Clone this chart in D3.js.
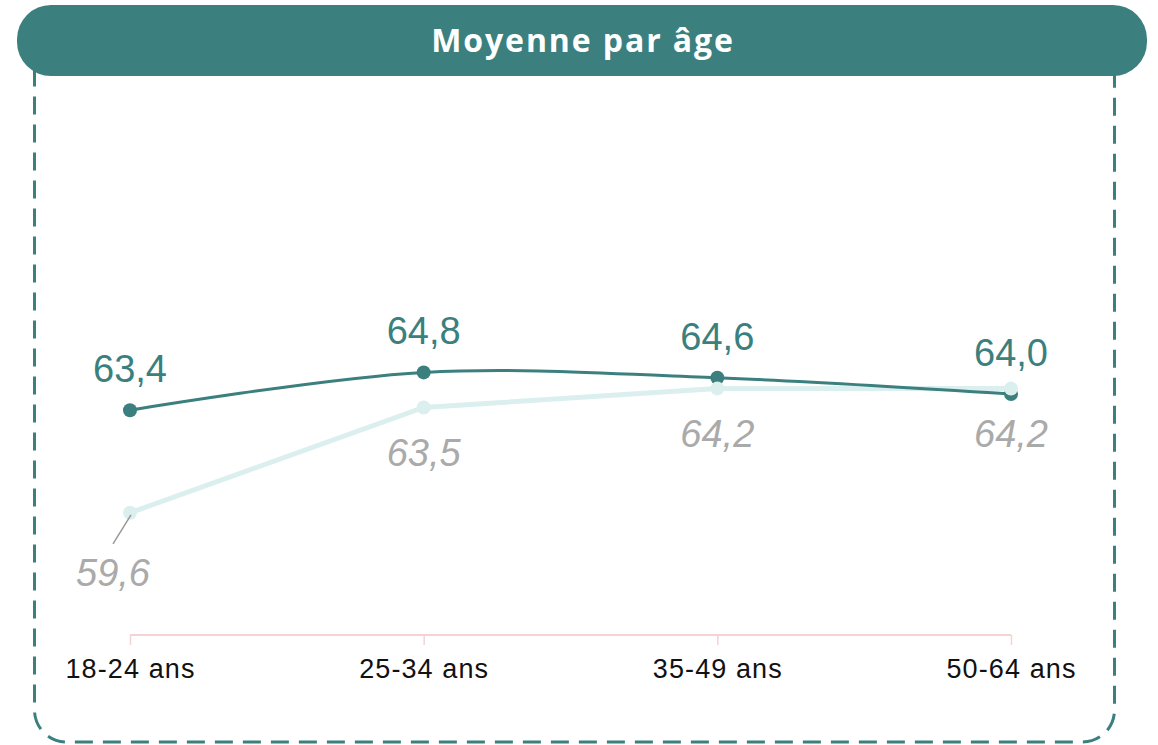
<!DOCTYPE html>
<html lang="fr">
<head>
  <meta charset="UTF-8">
  <title>Moyenne par âge</title>
  <style>
    body { margin: 0; background: #fff; }
    svg { display: block; }
  </style>
</head>
<body>
  <div id="chart"></div>
  <script src="https://d3js.org/d3.v7.min.js"></script>
  <script>
    var categories = ['18-24 ans', '25-34 ans', '35-49 ans', '50-64 ans'];
    var seriesDark = [63.4, 64.8, 64.6, 64.0];   // série principale
    var seriesLight = [59.6, 63.5, 64.2, 64.2];  // série de comparaison
    var yDomain = [55, 75];

    var width = 1158, height = 745;
    var teal = '#3b7f7f', pale = '#dcefef', grey = '#aaaaaa';
    var fmt = function(v) { return d3.format('.1f')(v).replace('.', ','); };

    var svg = d3.select('#chart').append('svg')
      .attr('width', width)
      .attr('height', height);

    // cadre en pointillés
    svg.append('rect')
      .attr('x', 34.5).attr('y', 40)
      .attr('width', 1080).attr('height', 702)
      .attr('rx', 32).attr('ry', 32)
      .attr('fill', 'none')
      .attr('stroke', teal)
      .attr('stroke-width', 3)
      .attr('stroke-dasharray', '18 10');

    // bandeau du titre
    svg.append('rect')
      .attr('x', 17).attr('y', 5)
      .attr('width', 1130).attr('height', 71)
      .attr('rx', 34).attr('ry', 34)
      .attr('fill', teal);
    svg.append('text')
      .attr('x', 583).attr('y', 52)
      .attr('text-anchor', 'middle')
      .attr('fill', '#fff')
      .attr('font-family', '"Open Sans", sans-serif')
      .attr('font-weight', 'bold')
      .attr('font-size', 32)
      .attr('letter-spacing', 1.9)
      .text('Moyenne par âge');

    var x = d3.scalePoint().domain(categories).range([130, 1011]);
    var y = d3.scaleLinear().domain(yDomain).range([637, 97]);

    // axe des x
    var axis = svg.append('g')
      .attr('transform', 'translate(0,635)')
      .call(d3.axisBottom(x).tickSize(10).tickPadding(14));
    axis.select('.domain').attr('stroke', '#f6d3d3').attr('stroke-width', 2)
      .attr('d', 'M130,0H1011');
    axis.selectAll('.tick line').attr('stroke', '#f6d3d3').attr('stroke-width', 1.5);
    axis.selectAll('.tick text')
      .attr('fill', '#111')
      .attr('font-family', '"Liberation Sans", Arial, sans-serif')
      .attr('font-size', 27)
      .attr('letter-spacing', 1.1);

    var light = categories.map(function(c, i) { return {c: c, v: seriesLight[i]}; });
    var dark = categories.map(function(c, i) { return {c: c, v: seriesDark[i]}; });

    // série claire (droite)
    svg.append('path')
      .datum(light)
      .attr('fill', 'none')
      .attr('stroke', pale)
      .attr('stroke-width', 5)
      .attr('d', d3.line().x(function(d) { return x(d.c); }).y(function(d) { return y(d.v); }));

    // série foncée (courbe)
    svg.append('path')
      .datum(dark)
      .attr('fill', 'none')
      .attr('stroke', teal)
      .attr('stroke-width', 3)
      .attr('d', d3.line().curve(d3.curveCatmullRom)
        .x(function(d) { return x(d.c); }).y(function(d) { return y(d.v); }));

    svg.append('g').selectAll('circle')
      .data(dark).enter().append('circle')
      .attr('cx', function(d) { return x(d.c); })
      .attr('cy', function(d) { return y(d.v); })
      .attr('r', 7)
      .attr('fill', teal);

    svg.append('g').selectAll('circle')
      .data(light).enter().append('circle')
      .attr('cx', function(d) { return x(d.c); })
      .attr('cy', function(d) { return y(d.v); })
      .attr('r', 7)
      .attr('fill', pale);

    // étiquettes
    svg.append('g').selectAll('text')
      .data(dark).enter().append('text')
      .attr('x', function(d) { return x(d.c); })
      .attr('y', function(d) { return y(d.v) - 28; })
      .attr('text-anchor', 'middle')
      .attr('fill', teal)
      .attr('font-family', '"Liberation Sans", Arial, sans-serif')
      .attr('font-size', 38)
      .text(function(d) { return fmt(d.v); });

    svg.append('g').selectAll('text')
      .data(light).enter().append('text')
      .attr('x', function(d, i) { return i === 0 ? x(d.c) - 17 : x(d.c); })
      .attr('y', function(d, i) { return y(d.v) + (i === 0 ? 73 : 58); })
      .attr('text-anchor', 'middle')
      .attr('fill', grey)
      .attr('font-family', '"Liberation Sans", Arial, sans-serif')
      .attr('font-style', 'italic')
      .attr('font-size', 38)
      .text(function(d) { return fmt(d.v); });

    // trait de rappel pour 59,6
    svg.append('line')
      .attr('x1', x(categories[0]) + 1).attr('y1', y(seriesLight[0]) + 2)
      .attr('x2', x(categories[0]) - 17).attr('y2', y(seriesLight[0]) + 31)
      .attr('stroke', '#999')
      .attr('stroke-width', 1.5);
  </script>
</body>
</html>
